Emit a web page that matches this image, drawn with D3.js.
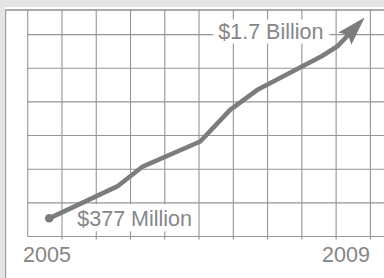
<!DOCTYPE html>
<html>
<head>
<meta charset="utf-8">
<script src="https://cdn.jsdelivr.net/npm/d3@7"></script>
<style>
  html, body { margin: 0; padding: 0; background: #e4e4e4; }
  svg { display: block; }
</style>
</head>
<body>
<div id="chart"></div>
<script>
// Revenue growth, 2005 -> 2009 (millions USD)
const years = [2005.03, 2005.94, 2006.28, 2007.05, 2007.45, 2007.81, 2008.68, 2008.89, 2009.25];
const revenue = [377, 587, 718, 883, 1091, 1222, 1446, 1512, 1700];
const axisYears = [2005, 2009];
const startLabel = '$377 Million';
const endLabel = '$1.7 Billion';

const W = 384, H = 278;
const gray = '#7c7c7c';
const gridColor = '#959595';
const textColor = '#868686';

const svg = d3.select('#chart')
  .append('svg')
  .attr('width', W)
  .attr('height', H);

// panel
svg.append('rect')
  .attr('x', 5).attr('y', 7)
  .attr('width', W).attr('height', H)
  .attr('fill', '#fff');

const plot = { left: 27.7, top: 10, bottom: 236.5 };

// scales
const x = d3.scaleLinear().domain([2005, 2009]).range([47, 346]);
const y = d3.scaleLinear().domain([250, 1750]).range([237.6, 9.9]);

// decorative grid (graph paper)
const gridX = d3.scaleLinear().domain([0, 10]).range([plot.left, 370.4]);
const gridY = d3.scaleLinear().domain([0, 6]).range([plot.bottom, 34.6]);

const grid = svg.append('g')
  .attr('stroke', gridColor)
  .attr('stroke-width', 1.1);

grid.selectAll('.hline')
  .data(d3.range(0, 7))
  .join('line')
  .attr('x1', plot.left).attr('x2', W)
  .attr('y1', d => gridY(d)).attr('y2', d => gridY(d));

grid.selectAll('.vline')
  .data(d3.range(0, 11))
  .join('line')
  .attr('x1', d => gridX(d)).attr('x2', d => gridX(d))
  .attr('y1', plot.top)
  .attr('y2', d => d === 0 ? plot.bottom : plot.bottom + 3);

// panel border (top + left)
svg.append('line')
  .attr('x1', 5).attr('x2', W)
  .attr('y1', 10).attr('y2', 10)
  .attr('stroke', '#8f8f8f').attr('stroke-width', 1.4);
svg.append('line')
  .attr('x1', 5.6).attr('x2', 5.6)
  .attr('y1', 10).attr('y2', H)
  .attr('stroke', '#a0a0a0').attr('stroke-width', 1.2);

// labels with white boxes
function boxedLabel(text, tx, ty, pad) {
  const g = svg.append('g');
  const rect = g.append('rect').attr('fill', '#fff');
  const t = g.append('text')
    .attr('x', tx).attr('y', ty)
    .text(text)
    .style('font-family', "'Liberation Sans', Arial, Helvetica, sans-serif")
    .style('font-size', '21.5px')
    .style('fill', textColor);
  const b = t.node().getBBox();
  rect.attr('x', b.x - pad.l)
    .attr('y', b.y - pad.t)
    .attr('width', b.width + pad.l + pad.r)
    .attr('height', b.height + pad.t + pad.b);
}

boxedLabel(startLabel, 77.3, 226.3, { l: 6, r: 4, t: 3, b: 0 });
boxedLabel(endLabel, 218.3, 38.6, { l: 5, r: 6, t: 0, b: 0 });

// line + arrow
const pts = years.map((yr, i) => [x(yr), y(revenue[i])]);
const tip = pts[pts.length - 1];
const prev = pts[pts.length - 2];
const ang = Math.atan2(tip[1] - prev[1], tip[0] - prev[0]);
const headLen = 29, headHalf = 9;
const base = [tip[0] - Math.cos(ang) * (headLen - 6), tip[1] - Math.sin(ang) * (headLen - 6)];
const linePts = pts.slice(0, -1).concat([base]);

const line = d3.line().curve(d3.curveLinear);

svg.append('path')
  .attr('d', line(linePts))
  .attr('fill', 'none')
  .attr('stroke', gray)
  .attr('stroke-width', 4.6)
  .attr('stroke-linejoin', 'round');

svg.append('path')
  .attr('d', 'M0,0L' + (-headLen) + ',' + (-headHalf) + 'L' + (-headLen + 5) + ',0L' + (-headLen) + ',' + headHalf + 'Z')
  .attr('transform', `translate(${tip[0]},${tip[1]}) rotate(${ang * 180 / Math.PI})`)
  .attr('fill', gray);

svg.append('circle')
  .attr('cx', pts[0][0]).attr('cy', pts[0][1])
  .attr('r', 4.3)
  .attr('fill', gray);

// year labels
svg.selectAll('.year')
  .data(axisYears)
  .join('text')
  .attr('x', d => x(d))
  .attr('y', 261.5)
  .attr('text-anchor', 'middle')
  .text(d => d)
  .style('font-family', "'Liberation Sans', Arial, Helvetica, sans-serif")
  .style('font-size', '21.5px')
  .style('fill', textColor);
</script>
</body>
</html>
